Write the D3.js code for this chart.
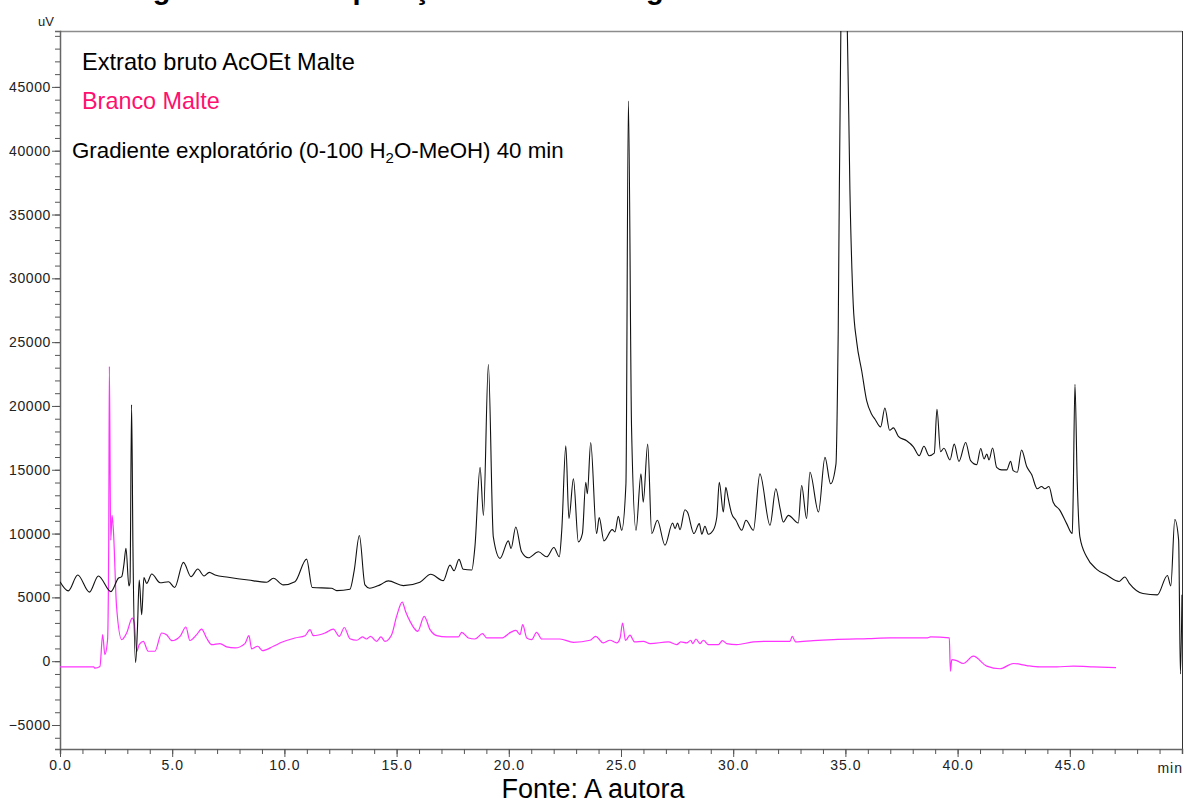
<!DOCTYPE html>
<html>
<head>
<meta charset="utf-8">
<script src="https://cdn.jsdelivr.net/npm/d3@7"></script>
<style>
  html, body { margin: 0; padding: 0; background: #fff; }
  #chart { width: 1188px; height: 805px; }
  text { font-family: Arial, "Liberation Sans", sans-serif; }
</style>
</head>
<body>
<div id="chart"></div>
<script>
// ============================================================================
// CHROMATOGRAM: Extrato bruto AcOEt Malte vs Branco Malte
// ============================================================================

// extract trace (time in min, signal in uV)
const extratoT = [0, 0.37, 0.79, 1.31, 1.71, 2.27, 2.6, 2.75, 2.85, 2.94, 3.07, 3.12, 3.19, 3.25, 3.37, 3.45,
  3.53, 3.64, 3.74, 3.86, 4.09, 4.46, 4.84, 5.11, 5.5, 5.84, 6.14, 6.42, 6.65, 6.91, 7.5, 8.39, 9.21, 9.51,
  9.95, 10.47, 10.99, 11.24, 12.1, 12.33, 12.92, 13.11, 13.34, 13.59, 13.8, 14.26, 14.63, 15.3, 16.04, 16.52,
  17.08, 17.38, 17.56, 17.78, 17.97, 18.35, 18.49, 18.72, 18.87, 19.09, 19.31, 19.61, 19.98, 20.1, 20.31,
  20.57, 20.87, 21.32, 21.69, 22.01, 22.25, 22.36, 22.54, 22.68, 22.88, 23.1, 23.28, 23.43, 23.5, 23.65,
  23.91, 24.03, 24.24, 24.61, 24.73, 24.88, 25.03, 25.22, 25.33, 25.47, 25.67, 25.89, 25.99, 26.19, 26.37,
  26.62, 26.96, 27.3, 27.41, 27.52, 27.63, 27.85, 27.96, 28.25, 28.49, 28.6, 28.74, 28.89, 29.11, 29.27,
  29.38, 29.56, 29.67, 29.78, 29.93, 30.12, 30.38, 30.57, 30.9, 31.19, 31.64, 31.9, 32.09, 32.23, 32.46,
  32.9, 33.05, 33.27, 33.42, 33.8, 34.09, 34.34, 34.58, 34.68, 34.8, 34.95, 35.08, 35.2, 35.35, 35.5, 35.73,
  35.95, 36.17, 36.32, 36.57, 36.76, 36.97, 37.14, 37.36, 37.73, 38.03, 38.29, 38.5, 38.73, 38.96, 39.08,
  39.24, 39.39, 39.66, 39.85, 40.06, 40.36, 40.58, 40.85, 41.03, 41.18, 41.3, 41.4, 41.56, 41.74, 41.96,
  42.19, 42.36, 42.48, 42.66, 42.85, 43.08, 43.3, 43.55, 43.74, 43.89, 44.07, 44.26, 44.56, 44.86, 45.11,
  45.15, 45.23, 45.33, 45.45, 45.75, 46.2, 46.64, 47.2, 47.45, 47.65, 48.26, 48.9, 49.35, 49.5, 49.68,
  49.85, 49.93, 50.0];
const extratoV = [6230, 5510, 6750, 5410, 6680, 5450, 6500, 6620, 7600, 8850, 5900, 6200, 20100, 9000, -100, 2500,
  6360, 3640, 6550, 6100, 6830, 6150, 6230, 5770, 7740, 6620, 7220, 6680, 6960, 6750, 6580, 6360, 6190, 6500,
  5980, 6230, 8000, 5770, 5720, 5530, 5640, 7100, 9850, 5980, 5720, 5980, 6290, 5920, 6190, 6810,
  6310, 7530, 7090, 7980, 7200, 7140, 8960, 15190, 11430, 23250, 9740, 8060, 9430, 8830, 10520,
  8570, 8100, 8570, 8180, 8910, 8180, 10260, 16880, 11170, 14290, 9350, 10000, 14020, 13120, 17140,
  10000, 11250, 9430, 10310, 10130, 11350, 10260, 13900, 43900, 18310, 10260, 14680, 12460, 17010, 10000,
  11040, 9090, 10830, 10390, 10830, 10310, 11870, 11690, 10000, 10780, 9950, 10570, 9950, 10260, 11300,
  14020, 11690, 13630, 12730, 11560, 11040, 10260, 11040, 10260, 14680, 10650, 13510, 11950, 10910, 11430,
  10830, 13770, 11170, 14800, 11690, 15970, 13900, 15460, 25840, 50000, 53000, 50000, 37000, 27940, 25060, 22720,
  20390, 19350, 18960, 18360, 19840, 18100, 18280, 17620, 17270, 16800, 16100, 16840, 16100, 16300, 19740,
  16420, 16680, 15770, 17010, 15660, 17140, 15710, 15400, 16670, 15840, 16230, 15770, 16700, 15190, 14990,
  14990, 15660, 14930, 14800, 16550, 15250, 14620, 13510, 13690, 13510, 13690, 12460, 11820, 10780, 10000,
  12850, 21700, 14150, 9740, 8180, 7200, 6750, 6250, 6600, 6100, 5300, 5200, 6720, 5900, 11100,
  9500, -1000, 5200];

// blank trace
const brancoT = [0, 1.5, 1.56, 1.78, 1.9, 2.0, 2.12, 2.17, 2.2, 2.26, 2.32, 2.38, 2.52, 2.75, 2.97, 3.22, 3.31,
  3.42, 3.53, 3.71, 3.93, 4.23, 4.53, 4.75, 4.98, 5.35, 5.61, 5.79, 6.09, 6.31, 6.53, 6.76, 7.13, 7.43, 7.8,
  8.24, 8.42, 8.54, 8.81, 9.02, 9.51, 9.88, 10.47, 10.92, 11.14, 11.29, 11.81, 12.18, 12.45, 12.67, 12.92,
  13.22, 13.48, 13.66, 13.84, 14.11, 14.3, 14.48, 14.78, 15.0, 15.25, 15.4, 15.6, 15.94, 16.23, 16.49, 16.79,
  17.23, 17.75, 17.9, 18.2, 18.49, 18.83, 19.01, 19.68, 20.08, 20.32, 20.5, 20.62, 20.8, 21.02, 21.24, 21.47,
  22.28, 22.88, 23.62, 23.87, 24.21, 24.51, 24.81, 24.96, 25.07, 25.2, 25.4, 25.6, 26.0, 26.3, 27.11, 27.49,
  27.66, 27.93, 28.11, 28.2, 28.34, 28.52, 28.67, 28.89, 29.34, 29.52, 29.71, 30.15, 30.9, 31.64, 32.53,
  32.63, 32.78, 33.57, 34.46, 36.02, 36.99, 38.62, 38.8, 39.63, 39.68, 39.74, 39.96, 40.25, 40.7, 41.3,
  41.89, 42.48, 43.08, 43.67, 44.41, 45.16, 46.05, 47.06];
const brancoV = [-450, -450, -550, -420, 2080, 520, 1690, 9000, 23100, 9480, 11430, 10260, 4280, 1690, 2210, 3380, 2990,
  780, 1300, 1560, 780, 780, 2210, 2080, 1610, 1950, 2680, 1620, 2080, 2520, 1820, 1300, 1380, 1120, 1040,
  1380, 2000, 970, 1170, 830, 1170, 1480, 1820, 2000, 2470, 2000, 2210, 2520, 1950, 2640, 1760,
  1640, 1900, 1740, 1950, 1560, 1900, 1560, 2080, 3510, 4630, 3900, 3120, 2340, 3510, 2470, 2000,
  1900, 1900, 2260, 1820, 1740, 2160, 1820, 1820, 2260, 2410, 2080, 2860, 1820, 1690, 2260, 1740,
  1740, 1480, 1640, 1950, 1430, 1640, 1430, 1820, 2990, 1620, 2040, 1520, 1560, 1380, 1510, 1300,
  1510, 1430, 1640, 1380, 1740, 1380, 1640, 1300, 1300, 1610, 1380, 1300, 1510, 1560, 1560,
  1950, 1510, 1610, 1690, 1770, 1820, 1820, 1900, 1820, -780, 130, 50, -180, 390, -390,
  -590, -180, -340, -440, -440, -390, -440, -510];

const yTickValues = [-5000, 0, 5000, 10000, 15000, 20000, 25000, 30000, 35000, 40000, 45000];
const xTickValues = [0, 5, 10, 15, 20, 25, 30, 35, 40, 45];
const xTickLabels = ['0.0', '5.0', '10.0', '15.0', '20.0', '25.0', '30.0', '35.0', '40.0', '45.0'];

function draw() {
    const container = document.getElementById('chart');
    container.innerHTML = '';
    const width = 1188, height = 805;
    const margin = { top: 31, right: 6, bottom: 56, left: 60 };
    const fontFamily = 'Arial, "Liberation Sans", sans-serif';

    const svg = d3.select(container).append('svg')
        .attr('width', width)
        .attr('height', height)
        .attr('viewBox', `0 0 ${width} ${height}`);

    const x = d3.scaleLinear()
        .domain([0, 50])
        .range([margin.left, width - margin.right]);

    const y = d3.scaleLinear()
        .domain([-6880, 49380])
        .range([height - margin.bottom, margin.top]);

    // CAPTION (cut off at top of page, only descenders show)
    svg.append('text')
        .attr('x', 127).attr('y', -1)
        .attr('font-size', 29).attr('font-weight', 'bold').attr('fill', '#000')
        .text('Figura 15 – Comparação dos cromatogramas');

    // FRAME
    svg.append('line')
        .attr('x1', margin.left).attr('x2', width - margin.right)
        .attr('y1', margin.top + 0.5).attr('y2', margin.top + 0.5)
        .attr('stroke', '#8c8c8c').attr('stroke-width', 1.5);
    svg.append('line')
        .attr('x1', width - margin.right + 0.5).attr('x2', width - margin.right + 0.5)
        .attr('y1', margin.top).attr('y2', height - margin.bottom)
        .attr('stroke', '#333');

    // AXES
    const yMinor = d3.range(-6000, 49001, 1000);
    const xMinor = d3.range(0, 51, 1);

    const gy = svg.append('g').attr('transform', `translate(${margin.left},0)`);
    gy.call(d3.axisLeft(y).tickValues(yMinor).tickSize(5).tickFormat(''));
    gy.selectAll('.tick line').attr('stroke', '#555');
    gy.select('.domain').attr('stroke', '#666').attr('stroke-width', 1.5);
    const gy2 = svg.append('g').attr('transform', `translate(${margin.left},0)`);
    gy2.call(d3.axisLeft(y).tickValues(yTickValues).tickSize(8).tickPadding(1).tickFormat(d3.format('d')));
    gy2.select('.domain').remove();
    gy2.selectAll('.tick line').attr('stroke', '#555');
    gy2.selectAll('text').attr('font-size', 14).attr('fill', '#222').attr('letter-spacing', 0.6)
        .attr('font-family', fontFamily);

    const gx = svg.append('g').attr('transform', `translate(0,${height - margin.bottom})`);
    gx.call(d3.axisBottom(x).tickValues(xMinor).tickSize(5).tickFormat(''));
    gx.selectAll('.tick line').attr('stroke', '#555');
    gx.select('.domain').attr('stroke', '#666').attr('stroke-width', 1.5);
    const gx2 = svg.append('g').attr('transform', `translate(0,${height - margin.bottom})`);
    gx2.call(d3.axisBottom(x).tickValues(xTickValues).tickSize(8).tickPadding(3).tickFormat((d, i) => xTickLabels[i]));
    gx2.select('.domain').remove();
    gx2.selectAll('.tick line').attr('stroke', '#555');
    gx2.selectAll('text').attr('font-size', 14).attr('fill', '#222').attr('letter-spacing', 1)
        .attr('font-family', fontFamily);

    svg.append('text')
        .attr('x', x(50) + 1).attr('y', height - margin.bottom + 24)
        .attr('text-anchor', 'end').attr('font-size', 14).attr('fill', '#222').attr('letter-spacing', 1)
        .text('min');
    svg.append('text')
        .attr('x', 38).attr('y', 26)
        .attr('font-size', 13).attr('fill', '#222')
        .text('uV');

    // TRACES
    svg.append('clipPath').attr('id', 'plot-clip')
        .append('rect')
        .attr('x', margin.left).attr('y', margin.top)
        .attr('width', width - margin.left - margin.right + 2)
        .attr('height', height - margin.top - margin.bottom);

    const line = d3.line()
        .x(d => x(d[0]))
        .y(d => y(d[1]))
        .curve(d3.curveMonotoneX);

    const plot = svg.append('g').attr('clip-path', 'url(#plot-clip)');
    plot.append('path')
        .datum(brancoT.map((t, i) => [t, brancoV[i]]))
        .attr('d', line)
        .attr('fill', 'none').attr('stroke', '#ff33ff').attr('stroke-width', 1.2);
    plot.append('path')
        .datum(extratoT.map((t, i) => [t, extratoV[i]]))
        .attr('d', line)
        .attr('fill', 'none').attr('stroke', '#111').attr('stroke-width', 1.1);

    // LEGEND TEXT
    svg.append('text').attr('x', 82).attr('y', 70)
        .attr('font-size', 23.6).attr('fill', '#000')
        .text('Extrato bruto AcOEt Malte');
    svg.append('text').attr('x', 82).attr('y', 109)
        .attr('font-size', 23.4).attr('fill', '#ff0f6f')
        .text('Branco Malte');
    const grad = svg.append('text').attr('x', 72).attr('y', 158)
        .attr('font-size', 22.3).attr('fill', '#000');
    grad.append('tspan').text('Gradiente exploratório (0-100 H');
    grad.append('tspan').attr('font-size', 15).attr('dy', 5).text('2');
    grad.append('tspan').attr('dy', -5).text('O-MeOH) 40 min');

    // SOURCE
    svg.append('text').attr('x', 593).attr('y', 798)
        .attr('text-anchor', 'middle').attr('font-size', 27).attr('fill', '#000')
        .text('Fonte: A autora');
}

draw();
</script>
</body>
</html>
